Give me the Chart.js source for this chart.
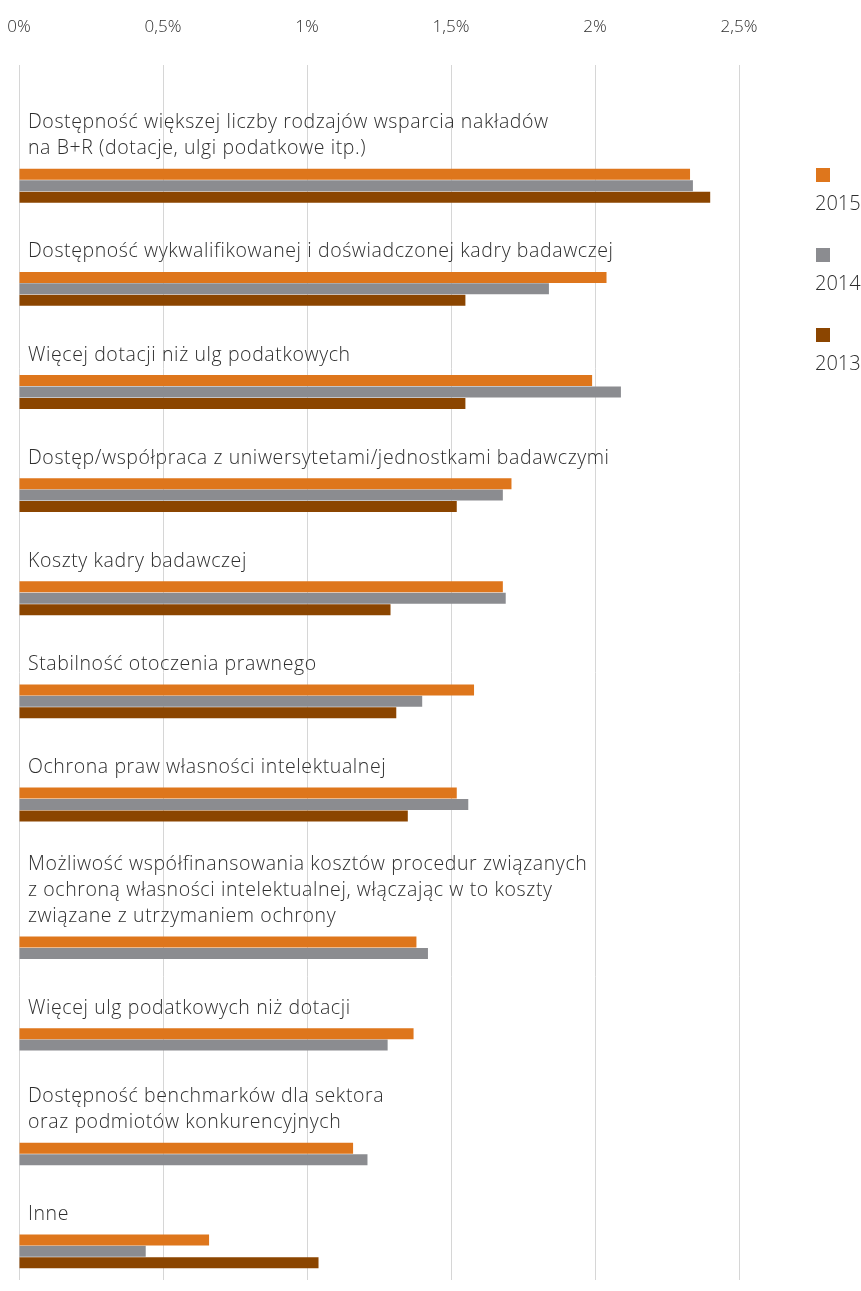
<!DOCTYPE html>
<html lang="pl">
<head>
<meta charset="utf-8">
<title>Czynniki wspierające działalność B+R</title>
<script src="https://cdn.jsdelivr.net/npm/chart.js@4.4.1/dist/chart.umd.min.js"></script>
<style>
  html, body { margin: 0; padding: 0; background: #fff; }
  #wrap { position: relative; width: 861px; height: 1291px; }
</style>
</head>
<body>
<div id="wrap"><canvas id="graph"></canvas></div>
<script>
// each category is a list of printed lines
const categories = [
  ['Dostępność większej liczby rodzajów wsparcia nakładów', 'na B+R (dotacje, ulgi podatkowe itp.)'],
  ['Dostępność wykwalifikowanej i doświadczonej kadry badawczej'],
  ['Więcej dotacji niż ulg podatkowych'],
  ['Dostęp/współpraca z uniwersytetami/jednostkami badawczymi'],
  ['Koszty kadry badawczej'],
  ['Stabilność otoczenia prawnego'],
  ['Ochrona praw własności intelektualnej'],
  ['Możliwość współfinansowania kosztów procedur związanych', 'z ochroną własności intelektualnej, włączając w to koszty', 'związane z utrzymaniem ochrony'],
  ['Więcej ulg podatkowych niż dotacji'],
  ['Dostępność benchmarków dla sektora', 'oraz podmiotów konkurencyjnych'],
  ['Inne']
];

const years = ['2015', '2014', '2013'];
const values2015 = [2.33, 2.04, 1.99, 1.71, 1.68, 1.58, 1.52, 1.38, 1.37, 1.16, 0.66];
const values2014 = [2.34, 1.84, 2.09, 1.68, 1.69, 1.40, 1.56, 1.42, 1.28, 1.21, 0.44];
const values2013 = [2.40, 1.55, 1.55, 1.52, 1.29, 1.31, 1.35, null, null, null, 1.04];
const xTicks = [0, 0.5, 1, 1.5, 2, 2.5];

const colors = ['#de761c', '#8b8c90', '#8b4500'];
const textColor = '#2e2e2e';
const fontFamily = '"Open Sans", Roboto, sans-serif';

window.onload = function () {
  loadChart(document.querySelector('#graph'));
};

// one row per bar, plus blank rows that leave room for the category text
function buildRows() {
  const series = [values2015, values2014, values2013];
  const rows = ['top'];
  const firstBar = [];
  const cells = series.map(() => []);

  categories.forEach((lines, c) => {
    const blank = lines.length * 2 + 4;
    for (let i = 0; i < blank; i++) rows.push('c' + c + '-' + i);
    firstBar.push(rows.length);
    series.forEach((s, k) => {
      if (s[c] === null) return;
      cells[k].push([rows.length, s[c]]);
      rows.push('c' + c + '-y' + years[k]);
    });
  });
  rows.push('end');

  const data = cells.map((list) => {
    const arr = rows.map(() => null);
    list.forEach(([row, v]) => { arr[row] = v; });
    return arr;
  });
  return { rows, firstBar, data };
}

const layout = buildRows();

const categoryText = {
  id: 'categoryText',
  afterDatasetsDraw(chart) {
    const ctx = chart.ctx;
    const y = chart.scales.y;
    ctx.save();
    ctx.fillStyle = textColor;
    ctx.font = '300 19.5px ' + fontFamily;
    ctx.letterSpacing = '0.6px';
    ctx.textAlign = 'left';
    ctx.textBaseline = 'alphabetic';
    categories.forEach((lines, c) => {
      const top = y.getPixelForValue(layout.firstBar[c]);
      lines.forEach((line, j) => {
        ctx.fillText(line, chart.chartArea.left + 9, top - 20 - (lines.length - 1 - j) * 26);
      });
    });
    ctx.restore();
  }
};

const sideLegend = {
  id: 'sideLegend',
  afterDraw(chart) {
    const ctx = chart.ctx;
    const x = chart.chartArea.right + 77;
    ctx.save();
    ctx.font = '300 20px ' + fontFamily;
    ctx.textAlign = 'left';
    ctx.textBaseline = 'alphabetic';
    chart.data.datasets.forEach((ds, i) => {
      const top = 168 + i * 80;
      ctx.fillStyle = ds.backgroundColor;
      ctx.fillRect(x, top, 14, 14);
      ctx.fillStyle = textColor;
      ctx.fillText(ds.label, x - 1, top + 42);
    });
    ctx.restore();
  }
};

function loadChart(element) {
  new Chart(element, {
    type: 'bar',
    data: {
      labels: layout.rows,
      datasets: years.map((year, k) => ({
        label: year,
        data: layout.data[k],
        backgroundColor: colors[k],
        grouped: false,
        categoryPercentage: 1,
        barPercentage: 0.96
      }))
    },
    options: {
      indexAxis: 'y',
      responsive: true,
      maintainAspectRatio: false,
      animation: false,
      layout: { padding: { left: 19, right: 122, top: 17, bottom: 11 } },
      plugins: {
        legend: { display: false },
        tooltip: { enabled: false }
      },
      scales: {
        x: {
          position: 'top',
          min: xTicks[0],
          max: xTicks[xTicks.length - 1],
          afterBuildTicks(scale) {
            scale.ticks = xTicks.map((v) => ({ value: v }));
          },
          ticks: {
            padding: 0,
            color: textColor,
            font: { family: fontFamily, size: 17, weight: '300' },
            callback: (v) => String(v).replace('.', ',') + '%'
          },
          // invisible tick marks keep a gap between labels and the grid
          grid: { color: '#d6d6d6', drawTicks: true, tickLength: 28, tickColor: 'rgba(0,0,0,0)' },
          border: { display: false }
        },
        y: { display: false }
      }
    },
    plugins: [categoryText, sideLegend]
  });
}
</script>
</body>
</html>
